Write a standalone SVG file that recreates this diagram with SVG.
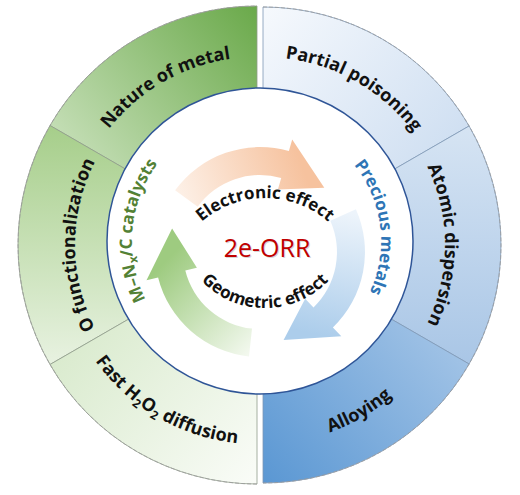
<svg xmlns="http://www.w3.org/2000/svg" width="520" height="495" viewBox="0 0 520 495">
<style>
.seg{stroke:#8f9c8a;stroke-width:0.8}
.segb{stroke:#7f98b5;stroke-width:0.8}
.rim{fill:none;stroke:#9a9a9a;stroke-width:0.8;stroke-dasharray:4 2}
.lbl{font-family:"Open Sans","Liberation Sans",sans-serif;font-weight:700;font-size:18px;fill:#111}
.inl{font-family:"Open Sans","Liberation Sans",sans-serif;font-weight:700;font-size:17px}
.eff{font-family:"Open Sans","Liberation Sans",sans-serif;font-weight:700;font-size:17px;fill:#111}
.orr{font-family:"Open Sans","Liberation Sans",sans-serif;font-size:25px;text-anchor:middle}
</style>
<defs>
<linearGradient id="gNature" x1="1" y1="0" x2="0" y2="1"><stop offset="0" stop-color="#6aa94a"/><stop offset="1" stop-color="#e1efd8"/></linearGradient>
<linearGradient id="gOfunc" x1="0" y1="0" x2="0" y2="1"><stop offset="0" stop-color="#a6ce8a"/><stop offset="1" stop-color="#e8f2e1"/></linearGradient>
<linearGradient id="gFast" x1="0" y1="0" x2="1" y2="1"><stop offset="0" stop-color="#cfe5c0"/><stop offset="1" stop-color="#fafcf8"/></linearGradient>
<linearGradient id="gPartial" x1="0" y1="0" x2="1" y2="1"><stop offset="0" stop-color="#f6f9fd"/><stop offset="1" stop-color="#c3d7ee"/></linearGradient>
<linearGradient id="gAtomic" x1="0" y1="0" x2="0" y2="1"><stop offset="0" stop-color="#d6e4f3"/><stop offset="1" stop-color="#a9c6e6"/></linearGradient>
<linearGradient id="gAlloy" x1="1" y1="0" x2="0" y2="1"><stop offset="0" stop-color="#b8d1ec"/><stop offset="1" stop-color="#5a97d3"/></linearGradient>
<linearGradient id="aGreen" gradientUnits="userSpaceOnUse" x1="255" y1="350" x2="165" y2="262"><stop offset="0" stop-color="#f4f9f0"/><stop offset="1" stop-color="#9ecb80"/></linearGradient>
<linearGradient id="aOrange" gradientUnits="userSpaceOnUse" x1="180" y1="205" x2="300" y2="160"><stop offset="0" stop-color="#fdf1e8"/><stop offset="1" stop-color="#f6c29e"/></linearGradient>
<linearGradient id="aBlue" gradientUnits="userSpaceOnUse" x1="345" y1="212" x2="320" y2="335"><stop offset="0" stop-color="#edf4fb"/><stop offset="1" stop-color="#accdeb"/></linearGradient>
<path id="tNature" d="M71.9,212.4 A188,188 0 0 1 321.3,68.3"/>
<path id="tOfunc" d="M140,384.4 A182,182 0 0 1 140,105.6"/>
<path id="tFast" d="M61,279.6 A199,199 0 0 0 325.1,432"/>
<path id="tPartial" d="M198.7,68.3 A188,188 0 0 1 448.1,212.4"/>
<path id="tAtomic" d="M380,105.6 A182,182 0 0 1 380,384.4"/>
<path id="tAlloy" d="M194.9,432 A199,199 0 0 0 459,279.6"/>
<path id="tMN" d="M186,346.7 A130,130 0 0 1 205.5,124.1"/>
<path id="tPrec" d="M307.3,129.6 A121,121 0 0 1 332.8,337.6"/>
<path id="tElec" d="M174.8,261.2 A96,96 0 0 1 355.2,261.2"/>
<path id="tGeo" d="M182.3,250.1 A88,88 0 0 0 347.7,250.1"/>
</defs>

<g id="nature-of-metal">
<path class="seg" fill="url(#gNature)" d="M257,245 L50,125.5 A239,239 0 0 1 257,6 Z"/>
<text class="lbl"><textPath href="#tNature" startOffset="50%" text-anchor="middle">Nature of metal</textPath></text>
</g>
<g id="o-functionalization">
<path class="seg" fill="url(#gOfunc)" d="M257,245 L50,364.5 A239,239 0 0 1 50,125.5 Z"/>
<text class="lbl"><textPath href="#tOfunc" startOffset="50%" text-anchor="middle">O functionalization</textPath></text>
</g>
<g id="fast-h2o2-diffusion">
<path class="seg" fill="url(#gFast)" d="M257,245 L257,484 A239,239 0 0 1 50,364.5 Z"/>
<text class="lbl"><textPath href="#tFast" startOffset="50%" text-anchor="middle">Fast H<tspan dy="4" font-size="12">2</tspan><tspan dy="-4">O</tspan><tspan dy="4" font-size="12">2</tspan><tspan dy="-4"> diffusion</tspan></textPath></text>
</g>
<g id="partial-poisoning">
<path class="segb" fill="url(#gPartial)" d="M263,245 L263,7 A238,238 0 0 1 469.1,126 Z"/>
<text class="lbl"><textPath href="#tPartial" startOffset="50%" text-anchor="middle">Partial poisoning</textPath></text>
</g>
<g id="atomic-dispersion">
<path class="segb" fill="url(#gAtomic)" d="M263,245 L469.1,126 A238,238 0 0 1 469.1,364 Z"/>
<text class="lbl"><textPath href="#tAtomic" startOffset="50%" text-anchor="middle">Atomic dispersion</textPath></text>
</g>
<g id="alloying">
<path class="segb" fill="url(#gAlloy)" d="M263,245 L469.1,364 A238,238 0 0 1 263,483 Z"/>
<text class="lbl"><textPath href="#tAlloy" startOffset="50%" text-anchor="middle">Alloying</textPath></text>
</g>
<path class="rim" d="M257,484 A239,239 0 0 1 257,6"/>
<path class="rim" d="M263,7 A238,238 0 0 1 263,483"/>

<g id="inner-circle">
<circle cx="260" cy="241" r="153" fill="#ffffff" stroke="#2f5597" stroke-width="1.5"/>
<text class="inl" fill="#538135"><textPath href="#tMN" startOffset="50%" text-anchor="middle">M–N<tspan dy="4" font-size="12">x</tspan><tspan dy="-4">/C catalysts</tspan></textPath></text>
<text class="inl" fill="#2e75b6"><textPath href="#tPrec" startOffset="50%" text-anchor="middle">Precious metals</textPath></text>
</g>

<g id="connectors">
<path id="arrow-orange" fill="url(#aOrange)" d="M175.1,190.3 A105,105 0 0 1 288.9,151.1 L292.2,139.5 L324.3,187.7 L277.9,189.5 L281.2,178 A77,77 0 0 0 197.7,206.7 Z"/>
<path id="arrow-blue" fill="url(#aBlue)" d="M355.9,209.3 A105,105 0 0 1 332.9,327.5 L341.3,336.2 L283.6,339.9 L305.2,298.8 L313.5,307.4 A77,77 0 0 0 330.3,220.7 Z"/>
<path id="arrow-green" fill="url(#aGreen)" d="M249,356.4 A105,105 0 0 1 158.1,277.4 L146.5,280.3 L172.1,228.4 L196.9,267.7 L185.3,270.6 A77,77 0 0 0 252,328.6 Z"/>
</g>

<g id="center">
<text class="eff"><textPath href="#tElec" startOffset="50%" text-anchor="middle">Electronic effect</textPath></text>
<text class="eff"><textPath href="#tGeo" startOffset="50%" text-anchor="middle">Geometric effect</textPath></text>
<text class="orr" x="268" y="258" fill="#bbbbbb" opacity="0.6">2e-ORR</text>
<text class="orr" x="267" y="257" fill="#c00000">2e-ORR</text>
</g>
</svg>
